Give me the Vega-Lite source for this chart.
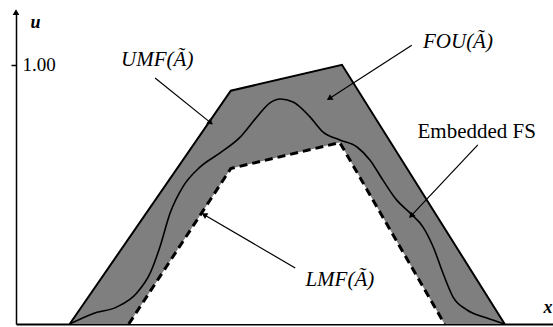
{
  "$schema": "https://vega.github.io/schema/vega-lite/v6.json",
  "width": 537,
  "height": 311,
  "autosize": "none",
  "padding": {"left": 16, "top": 13, "right": 0, "bottom": 3},
  "background": "white",
  "config": {"view": {"stroke": null}},
  "datasets": {
    "shapes": [
      {"s": "UMF", "x": 1.0, "u": 0},
      {"s": "UMF", "x": 4.0, "u": 0.9},
      {"s": "UMF", "x": 6.07, "u": 1.0},
      {"s": "UMF", "x": 9.1, "u": 0},
      {"s": "LMF", "x": 2.1, "u": 0},
      {"s": "LMF", "x": 4.0, "u": 0.6},
      {"s": "LMF", "x": 6.03, "u": 0.7},
      {"s": "LMF", "x": 7.98, "u": 0}
    ],
    "embedded": [
      {"x": 1.0, "u": 0},
      {"x": 1.43, "u": 0.04},
      {"x": 1.88, "u": 0.066},
      {"x": 2.25, "u": 0.12},
      {"x": 2.5, "u": 0.197},
      {"x": 2.68, "u": 0.297},
      {"x": 2.87, "u": 0.428},
      {"x": 3.11, "u": 0.53},
      {"x": 3.43, "u": 0.606},
      {"x": 3.8, "u": 0.66},
      {"x": 4.17, "u": 0.72},
      {"x": 4.49, "u": 0.8},
      {"x": 4.73, "u": 0.853},
      {"x": 4.92, "u": 0.868},
      {"x": 5.16, "u": 0.857},
      {"x": 5.47, "u": 0.8},
      {"x": 5.72, "u": 0.74},
      {"x": 6.03, "u": 0.71},
      {"x": 6.35, "u": 0.683},
      {"x": 6.59, "u": 0.633},
      {"x": 6.83, "u": 0.556},
      {"x": 7.09, "u": 0.478},
      {"x": 7.34, "u": 0.428},
      {"x": 7.58, "u": 0.374},
      {"x": 7.77, "u": 0.297},
      {"x": 7.95, "u": 0.197},
      {"x": 8.14, "u": 0.104},
      {"x": 8.4, "u": 0.054},
      {"x": 8.77, "u": 0.023},
      {"x": 9.1, "u": 0}
    ],
    "arrows": [
      {"name": "UMF", "x": 2.59, "u": 0.949, "x2": 3.61, "u2": 0.779, "angle": 128.7},
      {"name": "FOU", "x": 7.37, "u": 1.076, "x2": 5.85, "u2": 0.872, "angle": 237.1},
      {"name": "Embedded", "x": 8.6, "u": 0.691, "x2": 7.37, "u2": 0.42, "angle": 223.3},
      {"name": "LMF", "x": 5.2, "u": 0.216, "x2": 3.52, "u2": 0.42, "angle": 300.5},
      {"name": "axis", "x": 0, "u": 1.2, "x2": 0, "u2": 1.2, "angle": 0}
    ],
    "labels": [
      {"text": "UMF(Ã)", "x": 2.63, "u": 1.019, "kind": "math"},
      {"text": "FOU(Ã)", "x": 8.23, "u": 1.088, "kind": "math"},
      {"text": "LMF(Ã)", "x": 6.03, "u": 0.17, "kind": "math"},
      {"text": "Embedded FS", "x": 8.58, "u": 0.741, "kind": "plain"}
    ]
  },
  "encoding": {
    "x": {"field": "x", "type": "quantitative", "scale": {"domain": [0, 10], "nice": false, "zero": false},
      "axis": {"title": "x", "labels": false, "ticks": false, "grid": false, "domainColor": "black", "domainWidth": 2,
        "titleX": 527, "titleY": -17, "titleAlign": "left", "titleBaseline": "middle", "titleFont": "Liberation Serif",
        "titleFontStyle": "italic", "titleFontWeight": "bold", "titleFontSize": 18, "titleColor": "black"}},
    "y": {"field": "u", "type": "quantitative", "scale": {"domain": [0, 1.2], "nice": false},
      "axis": {"title": "u", "values": [1], "format": ".2f", "grid": false, "domainColor": "black", "domainWidth": 1.5,
        "tickColor": "black", "tickSize": 5, "tickWidth": 1.5, "labelAlign": "left", "labelPadding": -11,
        "labelFont": "Liberation Serif", "labelFontSize": 19, "labelColor": "black", "labelBaseline": "middle",
        "titleX": 14, "titleY": 9, "titleAngle": 0, "titleAlign": "left", "titleBaseline": "middle",
        "titleFont": "Liberation Serif", "titleFontStyle": "italic", "titleFontWeight": "bold", "titleFontSize": 18, "titleColor": "black"}}
  },
  "layer": [
    {
      "data": {"name": "shapes"},
      "transform": [{"filter": "datum.s === 'UMF'"}],
      "mark": {"type": "area", "color": "#7f7f7f", "opacity": 1}
    },
    {
      "data": {"name": "shapes"},
      "transform": [{"filter": "datum.s === 'LMF'"}],
      "mark": {"type": "area", "color": "white", "opacity": 1}
    },
    {
      "data": {"name": "shapes"},
      "transform": [{"filter": "datum.s === 'UMF'"}],
      "mark": {"type": "line", "color": "black", "strokeWidth": 2}
    },
    {
      "data": {"name": "shapes"},
      "transform": [{"filter": "datum.s === 'LMF'"}],
      "mark": {"type": "line", "color": "black", "strokeWidth": 3, "strokeDash": [8, 5]}
    },
    {
      "data": {"name": "embedded"},
      "mark": {"type": "line", "color": "black", "strokeWidth": 1.6, "interpolate": "monotone"}
    },
    {
      "data": {"name": "arrows"},
      "transform": [{"filter": "datum.name !== 'axis'"}],
      "mark": {"type": "rule", "color": "black", "strokeWidth": 1.2},
      "encoding": {"x2": {"field": "x2"}, "y2": {"field": "u2"}}
    },
    {
      "data": {"name": "arrows"},
      "mark": {"type": "point", "shape": "triangle", "filled": true, "color": "black", "opacity": 1, "size": 45, "clip": false},
      "encoding": {
        "x": {"field": "x2", "type": "quantitative"},
        "y": {"field": "u2", "type": "quantitative"},
        "angle": {"field": "angle", "type": "quantitative", "scale": null}
      }
    },
    {
      "data": {"name": "labels"},
      "transform": [{"filter": "datum.kind === 'math'"}],
      "mark": {"type": "text", "font": "Liberation Serif", "fontStyle": "italic", "fontSize": 21, "color": "black", "align": "center", "baseline": "middle"},
      "encoding": {"text": {"field": "text"}}
    },
    {
      "data": {"name": "labels"},
      "transform": [{"filter": "datum.kind === 'plain'"}],
      "mark": {"type": "text", "font": "Liberation Serif", "fontSize": 21, "color": "black", "align": "center", "baseline": "middle"},
      "encoding": {"text": {"field": "text"}}
    }
  ]
}
